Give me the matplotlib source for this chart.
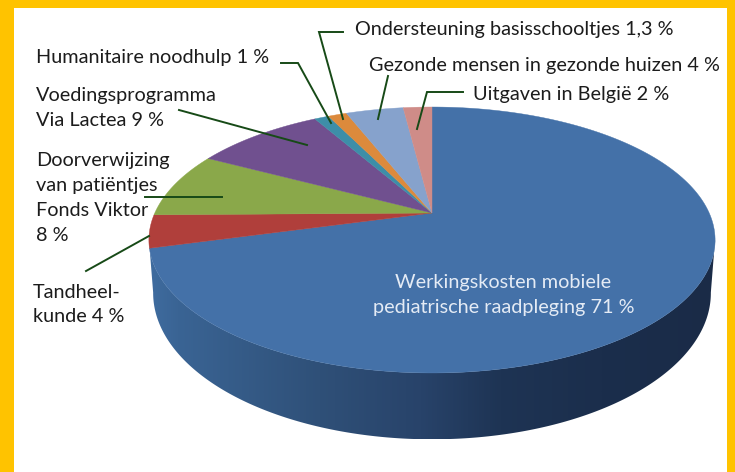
#! /usr/bin/python
# -*- encode: utf-8 -*-

"""Perspective 3D pie of how the budget is spent."""

import numpy as np
import matplotlib
matplotlib.use('Agg')
import matplotlib.pyplot as plt
from matplotlib.colors import LinearSegmentedColormap
from matplotlib.patches import Polygon


# Clockwise from 12 o'clock.
Names = [
    'Werkingskosten', 'Tandheelkunde', 'Doorverwijzing', 'Voedingsprogramma',
    'Humanitaire noodhulp', 'Ondersteuning', 'Gezonde mensen', 'Uitgaven in Belgie',
]
Shares = [71, 4, 8, 9, 1, 1.3, 4, 2]
Colors = ['#4471a8', '#b03f3b', '#8aa84a', '#70508f', '#3d8ea8', '#dc8a3c', '#86a2cc', '#cf8c88']

Width, Height = 735, 472
Yellow = '#ffc300'
LineColor = '#174a17'
TextColor = '#1c1c1c'
FontSize = 14.3

# Pie geometry, in pixels.
CenterX, ApexY = 432, 213
Persp, RadiusY, RadiusX = 0.203, 127.5, 277.2
Depth, BottomScale = 53, 0.985

WallStops = [
    (0.0, '#3f6c9f'), (0.05, '#3a6494'), (0.3, '#2f5078'), (0.48, '#28436a'),
    (0.62, '#1e3454'), (0.8, '#1b2e4c'), (1.0, '#1a2b47'),
]

# (x, baseline, text)
Labels = [
    (355, 35, 'Ondersteuning basisschooltjes 1,3 %'),
    (369, 71, 'Gezonde mensen in gezonde huizen 4 %'),
    (473, 100, 'Uitgaven in België 2 %'),
    (36, 63, 'Humanitaire noodhulp 1 %'),
    (36, 101, 'Voedingsprogramma'),
    (36, 126, 'Via Lactea 9 %'),
    (36, 166, 'Doorverwijzing'),
    (36, 191, 'van patiëntjes'),
    (36, 216, 'Fonds Viktor'),
    (36, 241, '8 %'),
    (33, 298, 'Tandheel-'),
    (33, 322, 'kunde 4 %'),
]
InsideLabels = [
    (503, 288, 'Werkingskosten mobiele'),
    (504, 313, 'pediatrische raadpleging 71 %'),
]

Leaders = [
    ([343, 319, 343], [32, 32, 119]),
    ([281, 298, 331], [63, 63, 123]),
    ([179, 307], [110, 145]),
    ([145, 222], [197, 197]),
    ([86, 149], [271, 236]),
    ([388, 378], [76, 119]),
    ([463, 427, 417], [92, 92, 129]),
]


def project(angle):
    """Angle clockwise from the top of the pie, to pixel coordinates."""
    x, y = np.sin(angle), np.cos(angle)
    den = 1 + Persp * y
    return CenterX + RadiusX * x / den, ApexY - RadiusY * y / den


def draw_wall(ax):
    angle = np.linspace(0, 2 * np.pi, 721)
    xs, ys = project(angle)

    # Front halves of the top rim and of the rim below it.
    left, right = xs.argmin(), xs.argmax()
    front = np.arange(right, left + 1)
    top_x, top_y = xs[front], ys[front]
    mid_x = (xs.min() + xs.max()) / 2
    low_x = mid_x + (top_x - mid_x) * BottomScale
    low_y = top_y + Depth + (top_y - top_y.min()) * 0.1

    outline = np.column_stack([
        np.concatenate([top_x, low_x[::-1]]),
        np.concatenate([top_y, low_y[::-1]]),
    ])
    patch = Polygon(outline, closed=True, facecolor='none', edgecolor='none')
    ax.add_patch(patch)

    cmap = LinearSegmentedColormap.from_list('wall', WallStops)
    gradient = np.linspace(0, 1, 512).reshape(1, -1)
    image = ax.imshow(
        gradient, cmap=cmap, aspect='auto', zorder=2,
        extent=(xs.min(), xs.max(), low_y.max(), top_y.min()),
    )
    image.set_clip_path(patch)


def draw_top(ax):
    edges = np.cumsum([0] + Shares) / sum(Shares) * 2 * np.pi
    for i, color in enumerate(Colors):
        angle = np.linspace(edges[i], edges[i + 1], 200)
        xs, ys = project(angle)
        ax.fill(
            np.concatenate([[CenterX], xs]), np.concatenate([[ApexY], ys]),
            color=color, linewidth=0.3, zorder=3,
        )


def main():
    plt.rcParams['font.family'] = ['Lato', 'DejaVu Sans']

    fig = plt.figure(figsize=(Width / 100, Height / 100), dpi=100, facecolor=Yellow)
    ax = fig.add_axes([0, 0, 1, 1])
    ax.axvspan(14, 727, ymin=0, ymax=1 - 8 / Height, color='white', linewidth=0, zorder=0)

    draw_wall(ax)
    draw_top(ax)

    for xs, ys in Leaders:
        ax.plot(xs, ys, color=LineColor, linewidth=1.4, solid_joinstyle='miter', zorder=4)

    for x, y, text in Labels:
        ax.text(x, y, text, fontsize=FontSize, color=TextColor, ha='left', va='baseline', zorder=5)
    for x, y, text in InsideLabels:
        ax.text(x, y, text, fontsize=FontSize, color='#e4ebf5', ha='center', va='baseline', zorder=5)

    ax.set_xlim(0, Width)
    ax.set_ylim(Height, 0)
    ax.axis('off')

    fig.savefig('out.png', dpi=100, facecolor=Yellow)


if __name__ == '__main__':
    main()
